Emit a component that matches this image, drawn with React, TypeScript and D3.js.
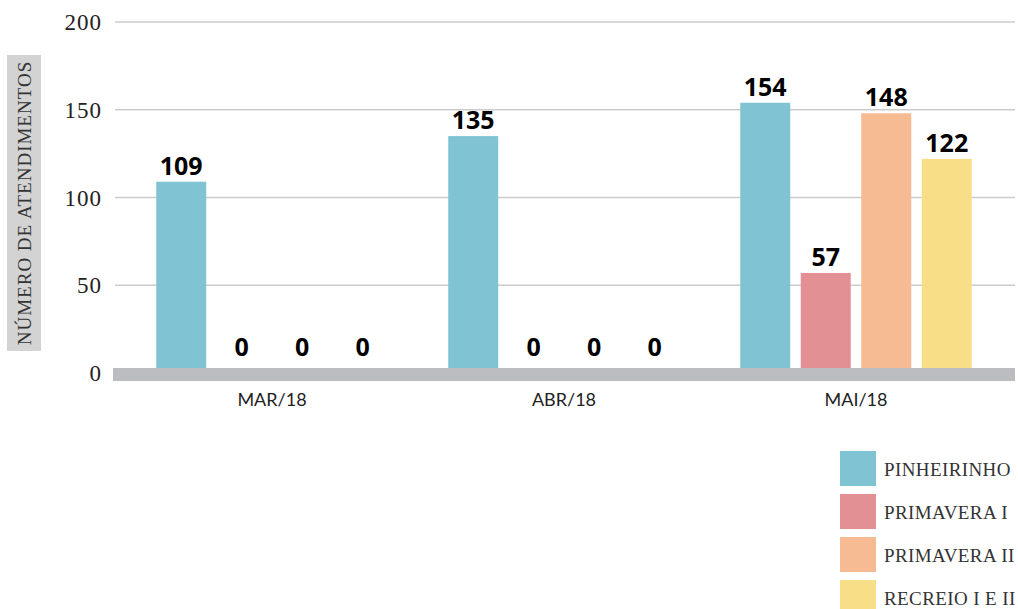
import React from "react";
import * as d3 from "d3";

const months = ["MAR/18", "ABR/18", "MAI/18"];
const series = ["PINHEIRINHO", "PRIMAVERA I", "PRIMAVERA II", "RECREIO I E II"];
const pinheirinho = [109, 135, 154];
const primaveraI = [0, 0, 57];
const primaveraII = [0, 0, 148];
const recreio = [0, 0, 122];
const colors = ["#80c4d4", "#e39095", "#f7bb93", "#f9de88"];
const yTicks = [0, 50, 100, 150, 200];
const yTitle = "NÚMERO DE ATENDIMENTOS";

const W = 1018;
const H = 609;

export default function App() {
  const values = [pinheirinho, primaveraI, primaveraII, recreio];
  const y = d3.scaleLinear().domain([0, 200]).range([373, 22]);
  const x0 = d3
    .scaleBand<string>()
    .domain(months)
    .range([126, 1002])
    .paddingInner(0.207)
    .paddingOuter(0.1035);
  const x1 = d3
    .scaleBand<string>()
    .domain(series)
    .range([0, x0.bandwidth()])
    .paddingInner(0.1736)
    .paddingOuter(0);

  const gridX0 = 115;
  const gridX1 = 1015;
  const serif = "'Liberation Serif', 'DejaVu Serif', serif";
  const sans = "'Open Sans', 'Noto Sans', sans-serif";

  return (
    <svg
      width={W}
      height={H}
      style={{ position: "absolute", left: 0, top: 0, background: "#fff" }}
    >
      {/* gridlines */}
      {yTicks
        .filter((t) => t > 0)
        .map((t) => (
          <line
            key={"g" + t}
            x1={gridX0}
            x2={gridX1}
            y1={y(t)}
            y2={y(t)}
            stroke="#cccccc"
            strokeWidth={1.3}
          />
        ))}
      {/* y tick labels */}
      {yTicks.map((t) => (
        <text
          key={"t" + t}
          x={102}
          y={y(t) + 8}
          textAnchor="end"
          fontFamily={serif}
          fontSize={23}
          letterSpacing={1}
          fill="#222"
        >
          {t}
        </text>
      ))}
      {/* y title */}
      <rect x={7} y={55} width={34} height={296} fill="#d3d3d3" />
      <text
        transform={`translate(31,${203}) rotate(-90)`}
        textAnchor="middle"
        fontFamily={serif}
        fontSize={19}
        letterSpacing={1}
        fill="#333"
      >
        {yTitle}
      </text>
      {/* bars */}
      {months.map((m, i) =>
        series.map((s, j) => {
          const v = values[j][i];
          const bx = (x0(m) ?? 0) + (x1(s) ?? 0);
          return (
            <rect
              key={m + s}
              x={bx}
              y={y(v)}
              width={x1.bandwidth()}
              height={y(0) - y(v)}
              fill={colors[j]}
            />
          );
        })
      )}
      {/* baseline band */}
      <rect x={113} y={y(0) - 5} width={gridX1 - 113} height={13} fill="#bcbdc0" />
      {/* value labels */}
      {months.map((m, i) =>
        series.map((s, j) => {
          const v = values[j][i];
          const cx = (x0(m) ?? 0) + (x1(s) ?? 0) + x1.bandwidth() / 2;
          const ly = v > 0 ? y(v) - 7 : y(0) - 17;
          return (
            <text
              key={"l" + m + s}
              x={cx}
              y={ly}
              textAnchor="middle"
              fontFamily={sans}
              fontWeight={700}
              fontSize={25}
              fill="#000"
            >
              {v}
            </text>
          );
        })
      )}
      {/* x labels */}
      {months.map((m) => (
        <text
          key={"x" + m}
          x={(x0(m) ?? 0) + x0.bandwidth() / 2}
          y={406}
          textAnchor="middle"
          fontFamily="Lato, 'Open Sans', sans-serif"
          fontSize={18}
          fill="#222"
        >
          {m}
        </text>
      ))}
      {/* legend */}
      {series.map((s, j) => (
        <g key={"lg" + s} transform={`translate(840,${451 + j * 43})`}>
          <rect width={36} height={35} fill={colors[j]} />
          <text
            x={44}
            y={25}
            fontFamily={serif}
            fontSize={19}
            letterSpacing={0.4}
            fill="#333"
          >
            {s}
          </text>
        </g>
      ))}
    </svg>
  );
}
